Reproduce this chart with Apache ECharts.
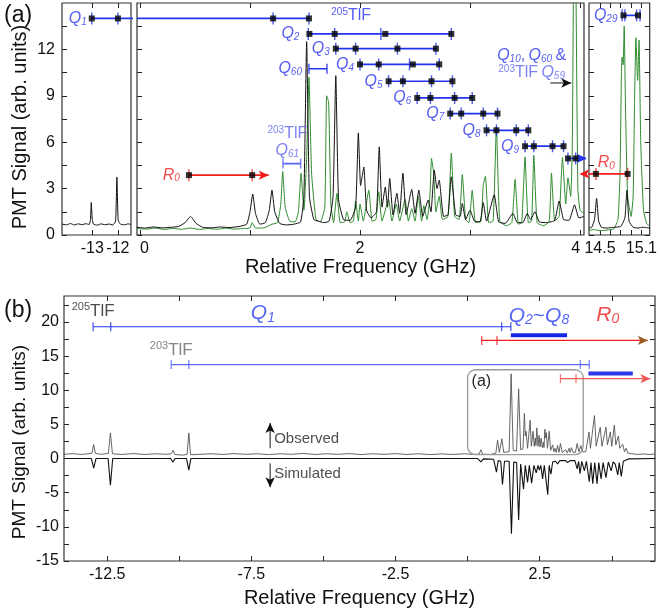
<!DOCTYPE html>
<html><head><meta charset="utf-8">
<script src="https://cdn.jsdelivr.net/npm/echarts@6/dist/echarts.min.js"></script>
<style>html,body{margin:0;padding:0;background:#fff}#c{width:660px;height:616px}</style>
</head><body><div id="c"></div><script>
// ---------- panel (a): LIF spectra (GHz, arb. units) ----------
const aLeftBlack = [[-14.18,0.7],[-14.0,0.66],[-13.85,0.74],[-13.7,0.65],[-13.55,0.72],[-13.4,0.67],[-13.25,0.73],[-13.12,0.68],[-13.07,1.0],[-13.04,2.1],[-13.0,1.0],[-12.95,0.7],[-12.8,0.64],[-12.65,0.72],[-12.5,0.66],[-12.35,0.71],[-12.2,0.65],[-12.09,0.9],[-12.04,3.75],[-11.99,0.95],[-11.9,0.7],[-11.75,0.66],[-11.6,0.72],[-11.49,0.68]];
const aMainBlack = [[-0.03,0.5],[0.05,0.45],[0.12,0.52],[0.2,0.46],[0.28,0.5],[0.35,0.55],[0.41,0.8],[0.46,1.2],[0.51,0.75],[0.57,0.5],[0.65,0.46],[0.73,0.52],[0.81,0.48],[0.9,0.55],[0.97,0.7],[1.0,1.5],[1.025,2.65],[1.05,1.4],[1.09,0.7],[1.14,0.8],[1.175,1.6],[1.2,2.9],[1.225,1.5],[1.27,0.75],[1.33,0.65],[1.4,0.7],[1.46,0.85],[1.49,2.5],[1.515,12.5],[1.54,2.5],[1.58,1.0],[1.62,0.9],[1.67,0.8],[1.72,0.9],[1.755,2.5],[1.78,10.3],[1.805,2.3],[1.85,1.0],[1.91,0.95],[1.96,1.8],[1.985,6.6],[2.005,3.2],[2.02,3.8],[2.035,4.4],[2.06,1.6],[2.1,1.1],[2.15,1.5],[2.175,5.7],[2.2,1.8],[2.23,3.1],[2.25,1.8],[2.27,3.66],[2.3,1.3],[2.335,2.7],[2.36,1.4],[2.39,4.0],[2.42,1.3],[2.47,2.95],[2.5,1.4],[2.535,2.9],[2.57,1.2],[2.62,2.26],[2.645,1.5],[2.675,4.2],[2.7,3.0],[2.72,3.55],[2.76,1.2],[2.8,1.3],[2.83,3.76],[2.87,1.3],[2.91,1.2],[2.93,2.04],[2.96,1.0],[3.0,1.6],[3.04,0.9],[3.09,0.85],[3.12,2.1],[3.15,0.9],[3.22,2.6],[3.26,0.85],[3.32,0.75],[3.39,1.4],[3.43,0.8],[3.48,0.8],[3.52,1.4],[3.55,1.0],[3.59,1.5],[3.63,0.85],[3.7,0.8],[3.77,0.95],[3.81,2.2],[3.85,1.0],[3.9,0.95],[3.95,1.95],[3.99,1.1],[4.036,1.2]];
const aMainGreen = [[-0.03,0.42],[0.06,0.38],[0.14,0.45],[0.22,0.36],[0.3,0.43],[0.38,0.37],[0.46,0.45],[0.54,0.36],[0.62,0.42],[0.7,0.37],[0.78,0.44],[0.86,0.38],[0.94,0.42],[1.0,0.45],[1.02,0.8],[1.05,0.45],[1.12,0.45],[1.2,0.7],[1.25,0.8],[1.28,2.0],[1.297,4.1],[1.32,1.8],[1.36,0.9],[1.41,0.85],[1.44,1.5],[1.464,4.0],[1.49,1.6],[1.515,5],[1.536,10.2],[1.56,4.0],[1.6,1.0],[1.64,0.85],[1.68,1.8],[1.697,9.0],[1.715,8.6],[1.735,2.0],[1.76,0.8],[1.79,2.7],[1.82,0.8],[1.86,0.85],[1.88,1.5],[1.91,0.8],[1.94,0.9],[1.96,2.2],[1.985,0.9],[2.0,2.0],[2.03,0.9],[2.08,2.9],[2.11,0.9],[2.145,1.0],[2.17,2.8],[2.2,0.9],[2.26,2.3],[2.29,0.9],[2.33,2.0],[2.36,0.9],[2.41,2.3],[2.44,0.9],[2.47,1.7],[2.5,0.9],[2.53,2.5],[2.56,0.9],[2.58,1.9],[2.61,1.0],[2.635,2.5],[2.65,4.95],[2.67,4.0],[2.69,1.5],[2.72,2.5],[2.75,1.0],[2.8,1.2],[2.83,5.3],[2.86,1.2],[2.9,1.0],[2.93,3.9],[2.96,1.0],[2.99,0.8],[3.02,2.9],[3.05,0.8],[3.1,0.9],[3.12,3.2],[3.14,3.8],[3.17,0.8],[3.21,0.9],[3.24,7.0],[3.27,0.9],[3.33,0.6],[3.38,0.8],[3.41,3.6],[3.44,0.7],[3.47,0.8],[3.5,5.05],[3.53,0.8],[3.56,0.9],[3.58,5.15],[3.61,0.8],[3.67,0.6],[3.72,0.9],[3.74,4.0],[3.77,0.9],[3.81,1.2],[3.84,5.0],[3.87,2.0],[3.89,3.7],[3.915,2.5],[3.93,6],[3.95,25],[3.98,3],[4.0,1.6],[4.036,1.4]];
const aRightBlack = [[14.34,0.45],[14.38,0.5],[14.42,1.0],[14.45,2.37],[14.48,0.9],[14.52,0.5],[14.6,0.45],[14.7,0.5],[14.8,0.55],[14.86,1.1],[14.89,2.9],[14.92,0.9],[14.98,0.5],[15.05,0.45],[15.12,0.5],[15.22,0.45]];
const aRightGreen = [[14.34,0.3],[14.42,0.35],[14.5,0.28],[14.6,0.32],[14.7,0.4],[14.76,1.0],[14.79,4.0],[14.81,10.5],[14.82,11.5],[14.835,11.0],[14.85,13.5],[14.87,8.0],[14.9,2.5],[14.95,1.2],[14.98,2.5],[15.0,8.5],[15.02,12.75],[15.045,10.0],[15.065,12.6],[15.09,6.0],[15.13,1.6],[15.18,0.7],[15.22,0.6]];

// panel (a): frequency axes and signal axis
const aLeftXLabels = [-13, -12];
const aMainXLabels = [0, 2, 4];
const aMainXTicks = [0, 1, 2, 3, 4];
const aRightXLabels = [14.5, 15.1];
const aRightXTicks = [14.5, 14.65, 14.8, 14.95, 15.1];
const aYLabels = [0, 3, 6, 9, 12];
const aYTicks = [0, 1.5, 3, 4.5, 6, 7.5, 9, 10.5, 12, 13.5];

// panel (a): 205TlF Q-branch assignments (observed squares, calculated bars)
const qNames = ['2', '3', '4', '5', '6', '7', '8', '9'];
const qLevels = [13.0, 12.05, 11.03, 9.94, 8.86, 7.85, 6.77, 5.74];
const qObserved = [[1.54,1.77,2.23,2.83],[1.78,1.96,2.34,2.69],[2.0,2.17,2.48,2.72],[2.26,2.39,2.65,2.84],[2.52,2.64,2.86,3.02],[2.82,2.92,3.12,3.25],[3.15,3.24,3.42,3.53],[3.5,3.58,3.75,3.85]];
const qCalculated = [[1.53,1.77,2.19,2.83],[1.78,1.96,2.34,2.69],[2.0,2.17,2.45,2.72],[2.26,2.39,2.65,2.84],[2.52,2.64,2.86,3.02],[2.82,2.92,3.12,3.25],[3.15,3.24,3.42,3.53],[3.5,3.58,3.75,3.85]];
const q1Level = 14.0;
const q1Left = [-13.02, -12.0];
const q1Main = [1.21, 1.536];
const q10Level = 4.95;
const q10Main = [3.89, 3.96];
const q60Level = 10.75;
const q60Range = [1.536, 1.70];
const q61Level = 4.62;
const q61Range = [1.30, 1.46];
const r0MainLevel = 3.87;
const r0Main = [0.445, 1.02];
const r0RightLevel = 3.95;
const r0Right = [14.44, 14.90];
const q29Level = 14.2;
const q29Observed = [14.84, 15.05];
const q29Calculated = [14.82, 14.86, 15.03, 15.08];

// ---------- panel (b): full scan, observed vs simulated ----------
const bObserved = [[-14,0.62],[-13.7,0.72],[-13.4,0.6],[-13.15,0.7],[-13.03,0.8],[-12.97,2.05],[-12.91,0.75],[-12.7,0.62],[-12.46,0.75],[-12.39,3.75],[-12.32,0.7],[-12.0,0.6],[-11.6,0.72],[-11.2,0.6],[-10.8,0.7],[-10.45,0.62],[-10.28,0.7],[-10.22,1.2],[-10.16,0.6],[-9.9,0.5],[-9.73,0.6],[-9.67,3.75],[-9.61,0.55],[-9.3,0.62],[-8.9,0.7],[-8.5,0.6],[-8.1,0.72],[-7.7,0.62],[-7.3,0.7],[-6.9,0.58],[-6.5,0.7],[-6.1,0.62],[-5.7,0.75],[-5.3,0.6],[-4.9,0.7],[-4.5,0.62],[-4.1,0.72],[-3.7,0.58],[-3.3,0.7],[-2.9,0.62],[-2.5,0.72],[-2.1,0.6],[-1.7,0.7],[-1.3,0.58],[-0.9,0.68],[-0.5,0.6],[-0.1,0.7],[0.2,0.6],[0.4,0.65],[0.46,1.3],[0.52,0.65],[0.8,0.6],[0.98,0.8],[1.04,2.7],[1.1,0.9],[1.15,1.0],[1.19,2.9],[1.25,0.9],[1.44,1.0],[1.51,12.4],[1.58,1.2],[1.7,1.1],[1.77,10.2],[1.84,1.3],[1.92,1.4],[1.97,6.6],[2.0,3.3],[2.03,4.0],[2.08,1.5],[2.13,1.5],[2.17,5.6],[2.21,1.8],[2.27,4.0],[2.31,1.8],[2.35,3.0],[2.37,1.9],[2.4,4.5],[2.44,1.8],[2.48,3.4],[2.51,1.7],[2.55,3.0],[2.59,1.6],[2.63,2.4],[2.65,1.6],[2.68,4.3],[2.71,3.0],[2.73,3.8],[2.77,1.5],[2.83,4.0],[2.88,1.2],[2.95,2.0],[2.99,1.0],[3.03,1.5],[3.07,0.9],[3.12,1.9],[3.17,0.9],[3.22,2.2],[3.28,0.9],[3.34,0.8],[3.4,1.3],[3.46,0.8],[3.52,1.5],[3.56,0.9],[3.6,1.6],[3.66,0.9],[3.74,0.9],[3.8,2.2],[3.86,1.0],[3.93,1.9],[3.98,1.0],[4.1,1.0],[4.21,3.9],[4.26,1.5],[4.32,1.6],[4.4,6.3],[4.46,1.8],[4.52,2.0],[4.6,4.6],[4.66,1.8],[4.72,2.0],[4.8,4.6],[4.85,2.0],[4.9,2.0],[4.95,3.9],[5.0,1.8],[5.05,2.0],[5.09,4.9],[5.14,2.0],[5.18,2.0],[5.23,3.3],[5.28,1.5],[5.33,1.6],[5.38,2.1],[5.44,1.0],[5.5,1.5],[5.56,0.8],[5.7,0.7],[5.9,0.6],[6.1,0.68],[6.3,0.6],[6.5,0.66]];
const bSimulated = [[-14,0],[-13.05,0],[-12.97,-1.4],[-12.89,0],[-12.47,0],[-12.39,-3.9],[-12.31,0],[-10.3,0],[-10.22,-0.55],[-10.15,0],[-9.75,0],[-9.67,-1.7],[-9.6,0],[0.35,0],[0.46,-0.5],[0.55,-0.05],[0.9,-0.1],[1.0,-2.0],[1.06,-0.3],[1.15,-0.4],[1.21,-3.8],[1.28,-0.4],[1.44,-0.4],[1.52,-11],[1.6,-0.5],[1.7,-0.6],[1.77,-9.0],[1.84,-0.8],[1.9,-0.8],[1.94,-4.5],[2.0,-1.0],[2.08,-3.5],[2.14,-1.0],[2.22,-3.6],[2.3,-1.0],[2.38,-2.1],[2.44,-1.0],[2.49,-1.7],[2.54,-1.0],[2.6,-3.0],[2.66,-1.0],[2.71,-1.2],[2.78,-5.3],[2.83,-1.0],[2.89,-2.3],[2.95,-0.5],[3.05,-0.4],[3.12,-0.8],[3.2,-0.3],[3.4,-0.3],[3.47,-0.6],[3.55,-0.3],[3.72,-0.3],[3.8,-1.5],[3.85,-0.4],[3.9,-2.2],[3.96,-0.4],[4.05,-1.8],[4.12,-0.4],[4.22,-3.4],[4.28,-0.6],[4.34,-3.7],[4.41,-0.6],[4.49,-3.7],[4.55,-0.6],[4.63,-3.0],[4.7,-0.6],[4.8,-2.8],[4.88,-0.5],[4.98,-1.8],[5.05,-0.5],[5.12,-0.8],[5.21,-2.4],[5.26,-0.6],[5.33,-2.6],[5.4,-0.4],[5.5,-0.2],[5.6,-0.05],[6.5,0]];
const bXLabels = [-12.5, -7.5, -2.5, 2.5];
const bXTicks = [-12.5, -10, -7.5, -5, -2.5, 0, 2.5, 5];
const bYLabels = [-15, -10, -5, 0, 5, 10, 15, 20];
const bYTicks = [-15, -12.5, -10, -7.5, -5, -2.5, 0, 2.5, 5, 7.5, 10, 12.5, 15, 17.5, 20, 22.5];
const b205Q1 = [-12.99, -12.38, 1.18, 1.50];
const b205Q1Level = 19.3;
const b205Q2to8 = [1.50, 3.45];
const b205Q2to8Level = 18.05;
const b205R0 = [0.49, 1.02, 6.25];
const b205R0Level = 17.3;
const b203Q1 = [-10.28, -9.67, 3.91, 4.22];
const b203Q1Level = 13.76;
const b203Q2to8 = [4.19, 5.73];
const b203Q2to8Level = 12.45;
const b203R0 = [3.22, 3.76, 6.34];
const b203R0Level = 11.7;
const bZoomBox = [0, 0.58, 4.01, 13];

// ---------- styling ----------
const FONT = "'Liberation Sans', Arial, sans-serif";
const BLUE = '#2233f2', BLUE_L = '#5b66f4', RED = '#f21c1c', RED_L = '#f25a5a';
const TXT_BLUE = '#2a33ee', TXT_BLUE_L = '#5c63f0';

function tok(size, color, extra) { return Object.assign({ fontFamily: FONT, fontSize: size, color: color }, extra || {}); }
const rich = {
  q: tok(16, TXT_BLUE, { fontStyle: 'italic' }),
  s: tok(10, TXT_BLUE, { fontStyle: 'italic', padding: [7, 0, 0, 0] }),
  c: tok(16, TXT_BLUE),
  lq: tok(16, TXT_BLUE_L, { fontStyle: 'italic' }),
  ls: tok(10, TXT_BLUE_L, { fontStyle: 'italic', padding: [7, 0, 0, 0] }),
  lt: tok(16, TXT_BLUE_L),
  lu: tok(10, TXT_BLUE_L, { padding: [0, 0, 7, 0] }),
  t: tok(16, TXT_BLUE),
  u: tok(10, TXT_BLUE, { padding: [0, 0, 7, 0] }),
  rq: tok(16, RED, { fontStyle: 'italic' }),
  rs: tok(10, RED, { fontStyle: 'italic', padding: [7, 0, 0, 0] }),
  Q: tok(21, '#2a3ef0', { fontStyle: 'italic' }),
  S: tok(14, '#2a3ef0', { fontStyle: 'italic', padding: [9, 0, 0, 0] }),
  T: tok(21, '#2a3ef0'),
  RQ: tok(21, RED, { fontStyle: 'italic' }),
  RS: tok(14, RED, { fontStyle: 'italic', padding: [9, 0, 0, 0] }),
  k: tok(17, '#222'),
  ku: tok(11, '#222', { padding: [0, 0, 8, 0] }),
  g: tok(17, '#666'),
  gu: tok(11, '#666', { padding: [0, 0, 8, 0] }),
  o: tok(15, '#222')
};

const series = [];
function trace(xi, yi, data, color, width, smooth) {
  series.push({ type: 'line', xAxisIndex: xi, yAxisIndex: yi, data: data, symbol: 'none',
    smooth: smooth || false, lineStyle: { color: color, width: width }, z: 2, silent: true, animation: false });
}
function seg(xi, yi, from, to, color, width, arrow, clip, z) {
  // from/to are [x,y]; arrow: colour of arrow head at 'to' or null
  let rot = 0;
  if (arrow) {
    if (to[0] > from[0]) rot = -90; else if (to[0] < from[0]) rot = 90;
    else rot = to[1] > from[1] ? 0 : 180;
  }
  const end = arrow ? { value: to, symbol: 'arrow', symbolSize: [7, 10], symbolRotate: rot, itemStyle: { color: arrow } }
                    : { value: to, symbol: 'none' };
  series.push({ type: 'line', xAxisIndex: xi, yAxisIndex: yi, clip: clip !== false,
    data: [{ value: from, symbol: 'none' }, end], lineStyle: { color: color, width: width },
    z: z || 5, silent: true, animation: false });
}
function marks(xi, yi, xs, level, color, size, z) {
  series.push({ type: 'scatter', xAxisIndex: xi, yAxisIndex: yi, symbol: 'rect', symbolSize: size,
    data: xs.map(x => [x, level]), itemStyle: { color: color }, z: z || 6, silent: true, animation: false });
}
function texts(xi, yi, items) {
  series.push({ type: 'scatter', xAxisIndex: xi, yAxisIndex: yi, symbolSize: 0, z: 9, silent: true, animation: false,
    label: { show: true, rich: rich },
    data: items.map(it => ({ value: it.at, label: { formatter: it.text, position: it.pos, distance: it.dist === undefined ? 5 : it.dist, align: it.align } })) });
}
const TICK = [1.4, 12], SQ = 6;

// ----- panel (a), left window -----
trace(0, 0, aLeftBlack, '#111', 1, 0.15);
seg(0, 0, [q1Left[0], q1Level], [-11.26, q1Level], BLUE, 1.7, null, false);
marks(0, 0, q1Left, q1Level, BLUE, TICK);
marks(0, 0, q1Left, q1Level, '#000', SQ, 7);
texts(0, 0, [{ at: [q1Left[0], q1Level], text: '{q|Q}{s|1}', pos: 'left', dist: 5 }]);

// ----- panel (a), main window -----
trace(1, 1, aMainGreen, '#2e8b2e', 1, 0.15);
trace(1, 1, aMainBlack, '#111', 1, 0.15);
seg(1, 1, [-0.027, q1Level], [q1Main[1], q1Level], BLUE, 1.7);
marks(1, 1, q1Main, q1Level, BLUE, TICK);
marks(1, 1, q1Main, q1Level, '#000', SQ, 7);
qNames.forEach((n, i) => {
  const xs = qObserved[i];
  seg(1, 1, [xs[0], qLevels[i]], [xs[xs.length - 1], qLevels[i]], BLUE, 1.7);
  marks(1, 1, qCalculated[i], qLevels[i], BLUE, TICK);
  marks(1, 1, xs, qLevels[i], '#000', SQ, 7);
});
texts(1, 1, qNames.map((n, i) => ({ at: [qObserved[i][0], qLevels[i]], text: '{q|Q}{s|' + n + '}', pos: 'left', dist: i === 0 ? 10 : 6 })));
// Q10 pair running off the window
seg(1, 1, [q10Main[0], q10Level], [4.06, q10Level], BLUE, 1.7, BLUE, false);
marks(1, 1, q10Main, q10Level, BLUE, TICK);
marks(1, 1, q10Main, q10Level, '#000', SQ, 7);
// Q60 and 203TlF Q61 spans
seg(1, 1, [q60Range[0], q60Level], [q60Range[1], q60Level], BLUE, 1.7);
marks(1, 1, q60Range, q60Level, BLUE, [1.5, 10]);
seg(1, 1, [q61Range[0], q61Level], [q61Range[1], q61Level], BLUE_L, 1.7);
marks(1, 1, q61Range, q61Level, BLUE_L, [1.5, 10]);
texts(1, 1, [
  { at: [q60Range[0], q60Level], text: '{q|Q}{s|60}', pos: 'left', dist: 7 },
  { at: [(q61Range[0] + q61Range[1]) / 2 - 0.04, q61Level], text: '{lu|203}{lt|TlF}\n{lq|Q}{ls|61}', pos: 'top', dist: 4 },
  { at: [1.92, 14.2], text: '{u|205}{t|TlF}', pos: 'inside', dist: 0 },
  { at: [3.56, 11.05], text: '{q|Q}{s|10}{c|,} {q|Q}{s|60} {c|&}\n{lu|203}{lt|TlF} {lq|Q}{ls|59}', pos: 'inside', dist: 0 }
]);
seg(1, 1, [3.73, 9.83], [3.92, 9.83], '#111', 1, '#111');
// R0 in the main window
seg(1, 1, [r0Main[0], r0MainLevel], [1.17, r0MainLevel], RED, 1.7, RED);
marks(1, 1, r0Main, r0MainLevel, RED, TICK);
marks(1, 1, r0Main, r0MainLevel, '#000', SQ, 7);
texts(1, 1, [{ at: [r0Main[0], r0MainLevel], text: '{rq|R}{rs|0}', pos: 'left', dist: 9 }]);

// ----- panel (a), right window -----
trace(2, 2, aRightGreen, '#2e8b2e', 1, 0.15);
trace(2, 2, aRightBlack, '#111', 1, 0.15);
seg(2, 2, [r0Right[1], r0RightLevel], [14.2, r0RightLevel], RED, 1.7, RED, false);
marks(2, 2, r0Right, r0RightLevel, RED, TICK);
marks(2, 2, r0Right, r0RightLevel, '#000', SQ, 7);
seg(2, 2, [q29Observed[0], q29Level], [q29Observed[1], q29Level], BLUE, 1.7);
marks(2, 2, q29Calculated, q29Level, BLUE, TICK);
marks(2, 2, q29Observed, q29Level, '#000', SQ, 7);
texts(2, 2, [
  { at: [q29Observed[0], q29Level], text: '{q|Q}{s|29}', pos: 'left', dist: 6 },
  { at: [14.59, r0RightLevel], text: '{rq|R}{rs|0}', pos: 'top', dist: 3 }
]);

// ----- panel (b) -----
series.push({
  type: 'custom', xAxisIndex: 3, yAxisIndex: 3, z: 3, silent: true, animation: false,
  data: [bZoomBox], encode: { x: [0, 2], y: [1, 3] },
  renderItem: function (params, api) {
    const a = api.coord([api.value(0), api.value(3)]);
    const b = api.coord([api.value(2), api.value(1)]);
    return { type: 'group', children: [
      { type: 'rect', shape: { x: a[0], y: a[1], width: b[0] - a[0], height: b[1] - a[1], r: 8 },
        style: { fill: null, stroke: '#9a9a9a', lineWidth: 1.3 } },
      { type: 'text', x: a[0] + 4, y: a[1] + 4, style: { text: '(a)', font: '16px ' + FONT, fill: '#222' } }
    ] };
  }
});
trace(3, 3, bSimulated, '#111', 1.1);
trace(3, 3, bObserved, '#555', 0.9);
seg(3, 3, [b205Q1[0], b205Q1Level], [b205Q1[3], b205Q1Level], BLUE, 1.2);
marks(3, 3, b205Q1, b205Q1Level, BLUE, [1.3, 9]);
seg(3, 3, [b205Q2to8[0], b205Q2to8Level], [b205Q2to8[1], b205Q2to8Level], '#1428e6', 4);
seg(3, 3, [b205R0[0], b205R0Level], [b205R0[2], b205R0Level], RED, 1.2, '#9a5a1e');
marks(3, 3, b205R0.slice(0, 2), b205R0Level, RED, [1.3, 9]);
seg(3, 3, [b203Q1[0], b203Q1Level], [b203Q1[3], b203Q1Level], BLUE_L, 1.2);
marks(3, 3, b203Q1, b203Q1Level, BLUE_L, [1.3, 9]);
seg(3, 3, [b203Q2to8[0], b203Q2to8Level], [b203Q2to8[1], b203Q2to8Level], '#2a3ae8', 4);
seg(3, 3, [b203R0[0], b203R0Level], [b203R0[2], b203R0Level], RED_L, 1.2, RED_L);
marks(3, 3, b203R0.slice(0, 2), b203R0Level, RED_L, [1.3, 9]);
seg(3, 3, [-6.85, 1.5], [-6.85, 5.2], '#111', 1, '#111');
seg(3, 3, [-6.85, -0.7], [-6.85, -4.2], '#111', 1, '#111');
texts(3, 3, [
  { at: [b205Q1[0], b205Q1Level], text: '{ku|205}{k|TlF}', pos: 'top', dist: 6 },
  { at: [-7.1, b205Q1Level], text: '{Q|Q}{S|1}', pos: 'top', dist: 2 },
  { at: [b203Q1[0], b203Q1Level], text: '{gu|203}{g|TlF}', pos: 'top', dist: 5 },
  { at: [(b205Q2to8[0] + b205Q2to8[1]) / 2, b205Q2to8Level], text: '{Q|Q}{S|2}{T|~}{Q|Q}{S|8}', pos: 'top', dist: 8 },
  { at: [4.86, b205R0Level], text: '{RQ|R}{RS|0}', pos: 'top', dist: 14 },
  { at: [-6.85, 2.9], text: '{o|Observed}', pos: 'right', dist: 4 },
  { at: [-6.85, -2.2], text: '{o|Simulated}', pos: 'right', dist: 4 }
]);

// ---------- axes ----------
const lab = { fontFamily: FONT, fontSize: 16, color: '#111' };
function xAx(grid, min, max, labels, ticks, extra, labelExtra) {
  return Object.assign({ type: 'value', gridIndex: grid, min: min, max: max, position: 'bottom',
    axisLine: { show: false, onZero: false }, splitLine: { show: false },
    axisTick: { inside: true, length: 5, customValues: ticks, lineStyle: { color: '#222' } },
    axisLabel: Object.assign({ customValues: labels, margin: 6 }, lab, labelExtra || {}) }, extra || {});
}
function xTop(grid, min, max, ticks) {
  return { type: 'value', gridIndex: grid, min: min, max: max, position: 'top',
    axisLine: { show: false, onZero: false }, splitLine: { show: false },
    axisTick: { inside: true, length: 5, customValues: ticks, lineStyle: { color: '#222' } },
    axisLabel: { show: false } };
}
function yAx(grid, min, max, labels, ticks, pos, margin) {
  return { type: 'value', gridIndex: grid, min: min, max: max, position: pos,
    axisLine: { show: false, onZero: false }, splitLine: { show: false },
    axisTick: { inside: true, length: 5, customValues: ticks, lineStyle: { color: '#222' } },
    axisLabel: labels ? Object.assign({ customValues: labels, margin: margin }, lab) : { show: false } };
}
const nameStyle = { fontFamily: FONT, fontSize: 20, color: '#111' };

const option = {
  backgroundColor: '#fff',
  animation: false,
  grid: [
    { left: 62, top: 3, width: 69, height: 232, show: true, borderColor: '#333', borderWidth: 1.2 },
    { left: 137, top: 3, width: 447, height: 232, show: true, borderColor: '#333', borderWidth: 1.2 },
    { left: 589, top: 3, width: 67, height: 232, show: true, borderColor: '#333', borderWidth: 1.2 },
    { left: 64, top: 296, width: 591, height: 265, show: true, borderColor: '#333', borderWidth: 1.2 }
  ],
  xAxis: [
    xAx(0, -14.18, -11.49, aLeftXLabels, aLeftXLabels),
    xAx(1, -0.027, 4.036, aMainXLabels, aMainXTicks,
      { name: 'Relative Frequency (GHz)', nameLocation: 'middle', nameGap: 18, nameTextStyle: nameStyle },
      { alignMinLabel: 'left', alignMaxLabel: 'right' }),
    xAx(2, 14.34, 15.22, aRightXLabels, aRightXTicks),
    xAx(3, -14, 6.5, bXLabels, bXTicks, { name: 'Relative Frequency (GHz)', nameLocation: 'middle', nameGap: 27, nameTextStyle: nameStyle }),
    xTop(0, -14.18, -11.49, aLeftXLabels),
    xTop(1, -0.027, 4.036, aMainXTicks),
    xTop(2, 14.34, 15.22, aRightXTicks),
    xTop(3, -14, 6.5, bXTicks)
  ],
  yAxis: [
    yAx(0, 0, 15, aYLabels, aYTicks, 'left', 7),
    yAx(1, 0, 15, null, aYTicks, 'left'),
    yAx(2, 0, 15, null, aYTicks, 'left'),
    yAx(3, -15, 23.8, bYLabels, bYTicks, 'left', 5),
    yAx(2, 0, 15, null, aYTicks, 'right'),
    yAx(3, -15, 23.8, null, bYTicks, 'right')
  ],
  graphic: [
    { type: 'text', left: 4, top: 4, style: { text: '(a)', font: '23px ' + FONT, fill: '#111' } },
    { type: 'text', left: 4, top: 299, style: { text: '(b)', font: '23px ' + FONT, fill: '#111' } },
    { type: 'text', x: 20, y: 127, rotation: Math.PI / 2, style: { text: 'PMT Signal (arb. units)', font: '20px ' + FONT, fill: '#111', align: 'center', verticalAlign: 'middle' } },
    { type: 'text', x: 20, y: 442, rotation: Math.PI / 2, style: { text: 'PMT Signal (arb. units)', font: '19px ' + FONT, fill: '#111', align: 'center', verticalAlign: 'middle' } }
  ],
  series: series
};
const chart = echarts.init(document.getElementById('c'), null, { renderer: 'canvas' });
chart.setOption(option);
</script></body></html>
